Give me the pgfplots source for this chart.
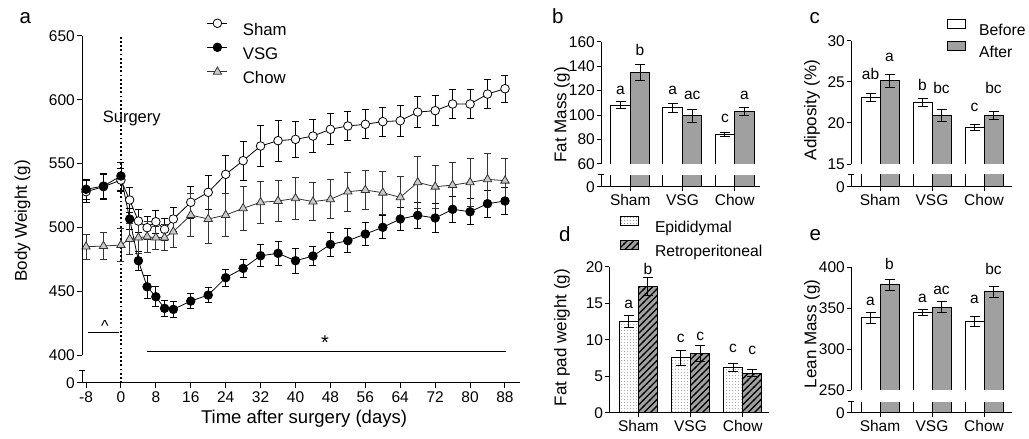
\documentclass[border=0pt]{standalone}
\usepackage{pgfplots}
\usepackage{pgfplotstable}
\pgfplotsset{compat=1.18}
\usepackage{fontspec}
\setmainfont{Liberation Sans}
\usetikzlibrary{patterns}
\definecolor{barg}{HTML}{A0A0A0}
\definecolor{trig}{HTML}{CACACA}
\newcommand{\fs}[1]{\fontsize{#1}{#1}\selectfont}

\pgfdeclarepatternformonly{hatchA}{\pgfqpoint{-1pt}{-1pt}}{\pgfqpoint{7.5pt}{7.5pt}}{\pgfqpoint{6.5pt}{6.5pt}}{%
  \pgfsetlinewidth{1.3pt}%
  \pgfpathmoveto{\pgfqpoint{-0.6pt}{-0.6pt}}%
  \pgfpathlineto{\pgfqpoint{7.1pt}{7.1pt}}%
  \pgfusepath{stroke}}
\pgfdeclarepatternformonly{dotsA}{\pgfqpoint{0pt}{0pt}}{\pgfqpoint{3.3pt}{3.3pt}}{\pgfqpoint{3.3pt}{3.3pt}}{%
  \pgfpathcircle{\pgfqpoint{1.65pt}{1.65pt}}{0.5pt}%
  \pgfusepath{fill}}

\pgfplotstableread{
x y e
-8 528.0 8.5
-4 531.9 10
0 537.1 9
2 521.5 10
4 505.0 9.1
6 499.8 9
8 504.5 8.9
10 498.5 8.7
12 506.6 9.4
16 519.7 12.4
20 527.5 13.4
24 541.6 15
28 552.3 15.5
32 563.8 16
36 568.0 16
40 569.0 14
44 571.6 13
48 576.9 12.1
52 579.5 11.4
56 580.8 11.4
60 582.9 11.5
64 583.6 11.9
68 590.4 12
72 591.5 11.9
76 596.7 11.5
80 596.7 11.5
84 604.5 11.1
88 608.7 10.7
}\sham

\pgfplotstableread{
x y e
-8 529.9 8
-4 532.4 10
0 540.3 11
2 506.6 8.5
4 473.9 7.2
6 453.5 9
8 445.7 7.8
10 436.6 6.5
12 435.8 6.5
16 442.3 5.9
20 447.0 6.1
24 460.6 6.8
28 467.9 7.3
32 477.8 8.7
36 479.7 9.1
40 473.9 9.8
44 477.6 7.2
48 486.7 9.1
52 489.6 9.4
56 494.8 9.0
60 500.1 9.0
64 506.6 9.0
68 509.5 10
72 507.4 11.5
76 514.2 10
80 512.3 10.2
84 518.6 10.8
88 520.7 10.4
}\vsg

\pgfplotstableread{
x y e
-8 484.9 9.7
-4 485.4 10.4
0 486.2 12.7
2 490.9 12
4 492.0 12
6 492.8 12
8 492.0 9
10 492.0 10
12 496.7 12.4
16 509.7 17
20 506.6 19
24 509.7 17
28 515.0 17
32 519.7 16.3
36 520.7 16.3
40 522.8 16.6
44 520.2 15
48 522.0 15.3
52 528.0 15.5
56 529.3 15.4
60 527.2 17
64 523.6 16.6
68 535.3 20.5
72 531.9 17
76 533.2 17.5
80 535.3 19
84 537.7 20.6
88 536.6 17.6
}\chow

\pgfplotstableread{
x b eb a ea
0 108.0 3.0 135.0 6.4
1 106.0 3.8 99.5 5.3
2 84.0 1.9 103.0 3.0
}\fatmass

\pgfplotstableread{
x b eb a ea
0 23.1 0.47 25.1 0.79
1 22.5 0.50 20.9 0.75
2 19.4 0.35 20.9 0.50
}\adipo

\pgfplotstableread{
x b eb a ea
0 12.5 0.87 17.3 1.26
1 7.5 1.07 8.1 1.10
2 6.2 0.52 5.4 0.50
}\fatpad

\pgfplotstableread{
x b eb a ea
0 338.4 6.5 378.4 6.5
1 344.5 4.0 351.1 6.7
2 333.5 6.0 370.2 6.7
}\lean

\pgfplotsset{
  prism/.style={
    scale only axis, anchor=south west,
    axis x line=bottom, axis y line=left,
    axis line style={-, line width=1pt, black},
    tick align=outside, major tick length=5pt,
    major tick style={line width=1pt, black},
    tick label style={font=\fs{15.5}},
    yticklabel style={inner sep=2pt},
    /pgf/number format/assume math mode=true,
  },
  hidey/.style={y axis line style={draw=none}},
  bars/.style={prism, ybar,
    xtick={0,1,2}, xticklabels={Sham,VSG,Chow},
    major tick length=4pt,
  },
  berr/.style={error bars/.cd, y dir=both, y explicit,
    error bar style={line width=1pt, black},
    error mark options={rotate=90, mark size=5pt, line width=1pt, black}},
  lerr/.style={error bars/.cd, y dir=both, y explicit,
    error bar style={line width=0.8pt},
    error mark options={rotate=90, mark size=3.5pt, line width=0.8pt}},
  boxlegc/.style={legend image code/.code={\draw[##1] (0pt,1.5pt) rectangle (18.3pt,9.8pt);}},
  legepi/.style={legend image code/.code={%
    \fill[white] (0pt,1.25pt) rectangle (17.7pt,10.25pt);
    \fill[pattern=dotsA, pattern color=black!55] (0pt,1.25pt) rectangle (17.7pt,10.25pt);
    \draw[line width=1pt] (0pt,1.25pt) rectangle (17.7pt,10.25pt);}},
  legretro/.style={legend image code/.code={%
    \fill[barg] (0pt,1.25pt) rectangle (17.7pt,10.25pt);
    \fill[pattern=hatchA, pattern color=black] (0pt,1.25pt) rectangle (17.7pt,10.25pt);
    \draw[line width=1pt] (0pt,1.25pt) rectangle (17.7pt,10.25pt);}},
}
\tikzset{lett/.style={anchor=base, font=\fs{15.5}}}

\begin{document}
\begin{tikzpicture}
\path[use as bounding box] (0,0) rectangle (1029pt,439pt);

% ---------------- panel a ----------------
\begin{axis}[prism, hidey, at={(82pt,56pt)}, width=438pt, height=347pt,
  xmin=-8.92, xmax=91.44, ymin=378.1, ymax=650,
  xtick={-8,0,8,16,24,32,40,48,56,64,72,80,88},
  ytick={400,450,500,550,600,650},
  extra y ticks={378.1}, extra y tick labels={0},
  xticklabel style={inner sep=3.5pt},
  legend style={at={(0.2854,1.049)}, anchor=north west, draw=none, fill=none,
    inner sep=0pt, outer sep=0pt, font=\fs{16.8}, row sep=7.7pt,
    nodes={inner sep=0pt, text height=12pt, text depth=0pt},
    /tikz/every odd column/.append style={column sep=15pt}},
  legend cell align=left,
  legend image code/.code={\draw[mark repeat=2,mark phase=2,#1] plot coordinates {(0pt,6pt) (10pt,6pt) (20pt,6pt)};},
]
\addplot[black, line width=0.8pt, mark=*, mark size=4.3pt, mark options={fill=white, line width=0.8pt}, lerr]
  table[x=x, y=y, y error=e] {\sham};
\addlegendentry{Sham}
\addplot[black, line width=0.8pt, mark=*, mark size=4.3pt, mark options={fill=black, line width=0.8pt}, lerr]
  table[x=x, y=y, y error=e] {\vsg};
\addlegendentry{VSG}
\addplot[black!80, line width=0.8pt, mark=triangle*, mark size=4.8pt, mark options={fill=trig, draw=black!80, line width=0.8pt}, lerr]
  table[x=x, y=y, y error=e] {\chow};
\addlegendentry{Chow}
\draw[line width=2pt, dash pattern=on 1.8pt off 2.4pt] (axis cs:0,378.1) -- (axis cs:0,650);
\node[anchor=base west, font=\fs{16.5}] at (axis cs:-4.95,582.1) {Surgery};
\node[anchor=base, font=\fs{16}] at (axis cs:-3.65,418.4) {\textasciicircum};
\draw[line width=1pt] (axis cs:-7.6,417.8) -- (axis cs:-0.44,417.8);
\node[anchor=base, font=\fs{20}] at (axis cs:46.75,404.5) {*};
\draw[line width=1pt] (axis cs:5.9,402.6) -- (axis cs:88.2,402.6);
\coordinate (a0) at (axis cs:-8.92,378.1);
\coordinate (a1) at (axis cs:-8.92,388.2);
\coordinate (a2) at (axis cs:-8.92,400);
\coordinate (a3) at (axis cs:-8.92,650);
\end{axis}
\draw[line width=1pt] (a2) -- (a3);
\draw[line width=1pt] (a0) -- (a1);
\draw[line width=1pt] ([xshift=-3pt]a1) -- ([xshift=3pt]a1);
\node[rotate=90, font=\fs{17}] at (22.5pt,218pt) {Body Weight (g)};
\node[font=\fs{18.5}] at (304pt,20.5pt) {Time after surgery (days)};
\node[anchor=base west, font=\fs{20.5}] at (16pt,415pt) {a};

% ---------------- panel b ----------------
\begin{axis}[bars, hidey, at={(601pt,252.3pt)}, width=159pt, height=145pt,
  xmin=-0.561, xmax=2.485, ymin=41.4, ymax=160,
  ytick={60,80,100,120,140,160}, extra y ticks={41.4}, extra y tick labels={0}]
\addplot[draw=black, fill=white, line width=1pt, bar width=19.5pt, bar shift=-9.75pt, berr]
  table[x=x, y=b, y error=eb] {\fatmass};
\addplot[draw=black, fill=barg, line width=1pt, bar width=19.5pt, bar shift=9.75pt, berr]
  table[x=x, y=a, y error=ea] {\fatmass};
\coordinate (b0) at (axis cs:-0.561,41.4);
\coordinate (b1) at (axis cs:-0.561,51.0);
\coordinate (b2) at (axis cs:-0.561,60);
\coordinate (b3) at (axis cs:-0.561,160);
\coordinate (bg) at (axis cs:2.45,59.6);
\coordinate (bt1) at (axis cs:-0.187,117.2);
\coordinate (bt2) at (axis cs:0.187,148.3);
\coordinate (bt3) at (axis cs:0.813,117.2);
\coordinate (bt4) at (axis cs:1.187,112.9);
\coordinate (bt5) at (axis cs:1.813,94.1);
\coordinate (bt6) at (axis cs:2.187,112.9);
\end{axis}
\fill[white] ([xshift=1pt]b1) rectangle (bg);
\draw[line width=1pt] (b2) -- (b3);
\draw[line width=1pt] (b0) -- (b1);
\draw[line width=1pt] ([xshift=-3pt]b1) -- ([xshift=3pt]b1);
\node[lett] at (bt1) {a};
\node[lett] at (bt2) {b};
\node[lett] at (bt3) {a};
\node[lett] at (bt4) {ac};
\node[lett] at (bt5) {c};
\node[lett] at (bt6) {a};
\node[rotate=90, font=\fs{17}] at (562pt,324pt) {Fat Mass (g)};
\node[anchor=base west, font=\fs{20.5}] at (548.5pt,415pt) {b};

% ---------------- panel c ----------------
\begin{axis}[bars, hidey, at={(851pt,252.3pt)}, width=161pt, height=146pt,
  xmin=-0.558, xmax=2.538, ymin=12.24, ymax=30,
  ytick={15,20,25,30}, extra y ticks={12.24}, extra y tick labels={0},
  legend style={at={(0.594,1.147)}, anchor=north west, draw=none, fill=none,
    inner sep=0pt, outer sep=0pt, font=\fs{15.7}, row sep=6.1pt,
    nodes={inner sep=0pt, text height=11.3pt, text depth=0pt},
    /tikz/every odd column/.append style={column sep=13.3pt}},
  legend cell align=left]
\addplot[draw=black, fill=white, line width=1pt, bar width=19pt, bar shift=-9.5pt, boxlegc, berr]
  table[x=x, y=b, y error=eb] {\adipo};
\addlegendentry{Before}
\addplot[draw=black, fill=barg, line width=1pt, bar width=19pt, bar shift=9.5pt, boxlegc, berr]
  table[x=x, y=a, y error=ea] {\adipo};
\addlegendentry{After}
\coordinate (c0) at (axis cs:-0.558,12.24);
\coordinate (c1) at (axis cs:-0.558,13.75);
\coordinate (c2) at (axis cs:-0.558,15);
\coordinate (c3) at (axis cs:-0.558,30);
\coordinate (cg) at (axis cs:2.5,14.95);
\coordinate (ct1) at (axis cs:-0.183,25.22);
\coordinate (ct2) at (axis cs:0.183,27.53);
\coordinate (ct3) at (axis cs:0.817,24.0);
\coordinate (ct4) at (axis cs:1.183,23.6);
\coordinate (ct5) at (axis cs:1.817,21.36);
\coordinate (ct6) at (axis cs:2.183,23.6);
\end{axis}
\fill[white] ([xshift=1pt]c1) rectangle (cg);
\draw[line width=1pt] (c2) -- (c3);
\draw[line width=1pt] (c0) -- (c1);
\draw[line width=1pt] ([xshift=-3pt]c1) -- ([xshift=3pt]c1);
\node[lett] at (ct1) {ab};
\node[lett] at (ct2) {a};
\node[lett] at (ct3) {b};
\node[lett] at (ct4) {bc};
\node[lett] at (ct5) {c};
\node[lett] at (ct6) {bc};
\node[rotate=90, font=\fs{17}] at (812pt,329pt) {Adiposity (\%)};
\node[anchor=base west, font=\fs{20.5}] at (806pt,415pt) {c};

% ---------------- panel d ----------------
\begin{axis}[bars, at={(609.3pt,26.3pt)}, width=160pt, height=146pt,
  xmin=-0.556, xmax=2.51, ymin=0, ymax=20,
  ytick={0,5,10,15,20},
  legend style={at={(0.067,1.348)}, anchor=north west, draw=none, fill=none,
    inner sep=0pt, outer sep=0pt, font=\fs{15.7}, row sep=7.5pt,
    nodes={inner sep=0pt, text height=11.5pt, text depth=0pt},
    /tikz/every odd column/.append style={column sep=16.3pt}},
  legend cell align=left]
\addplot[draw=black, fill=white, line width=1pt, bar width=19.3pt, bar shift=-9.65pt,
  postaction={pattern=dotsA, pattern color=black!55},
  legepi, berr]
  table[x=x, y=b, y error=eb] {\fatpad};
\addlegendentry{Epididymal}
\addplot[draw=black, fill=barg, line width=1pt, bar width=19.3pt, bar shift=9.65pt,
  postaction={pattern=hatchA, pattern color=black},
  legretro, berr]
  table[x=x, y=a, y error=ea] {\fatpad};
\addlegendentry{Retroperitoneal}
\coordinate (dt1) at (axis cs:-0.185,14.3);
\coordinate (dt2) at (axis cs:0.185,18.96);
\coordinate (dt3) at (axis cs:0.815,9.68);
\coordinate (dt4) at (axis cs:1.185,9.86);
\coordinate (dt5) at (axis cs:1.815,8.22);
\coordinate (dt6) at (axis cs:2.185,7.95);
\end{axis}
\node[lett] at (dt1) {a};
\node[lett] at (dt2) {b};
\node[lett] at (dt3) {c};
\node[lett] at (dt4) {c};
\node[lett] at (dt5) {c};
\node[lett] at (dt6) {c};
\node[rotate=90, font=\fs{17}] at (562pt,101.5pt) {Fat pad weight (g)};
\node[anchor=base west, font=\fs{20.5}] at (555.5pt,197pt) {d};

% ---------------- panel e ----------------
\begin{axis}[bars, hidey, at={(851pt,26.3pt)}, width=161pt, height=145.4pt,
  xmin=-0.558, xmax=2.538, ymin=222.3, ymax=400,
  ytick={250,300,350,400}, extra y ticks={222.3}, extra y tick labels={0}]
\addplot[draw=black, fill=white, line width=1pt, bar width=19pt, bar shift=-9.5pt, berr]
  table[x=x, y=b, y error=eb] {\lean};
\addplot[draw=black, fill=barg, line width=1pt, bar width=19pt, bar shift=9.5pt, berr]
  table[x=x, y=a, y error=ea] {\lean};
\coordinate (e0) at (axis cs:-0.558,222.3);
\coordinate (e1) at (axis cs:-0.558,235.7);
\coordinate (e2) at (axis cs:-0.558,250);
\coordinate (e3) at (axis cs:-0.558,400);
\coordinate (eg) at (axis cs:2.5,249.6);
\coordinate (et1) at (axis cs:-0.183,352.7);
\coordinate (et2) at (axis cs:0.183,397.9);
\coordinate (et3) at (axis cs:0.817,357.2);
\coordinate (et4) at (axis cs:1.183,366.5);
\coordinate (et5) at (axis cs:1.817,356.0);
\coordinate (et6) at (axis cs:2.183,390.6);
\end{axis}
\fill[white] ([xshift=1pt]e1) rectangle (eg);
\draw[line width=1pt] (e2) -- (e3);
\draw[line width=1pt] (e0) -- (e1);
\draw[line width=1pt] ([xshift=-3pt]e1) -- ([xshift=3pt]e1);
\node[lett] at (et1) {a};
\node[lett] at (et2) {b};
\node[lett] at (et3) {a};
\node[lett] at (et4) {ac};
\node[lett] at (et5) {a};
\node[lett] at (et6) {bc};
\node[rotate=90, font=\fs{17}] at (812pt,105pt) {Lean Mass (g)};
\node[anchor=base west, font=\fs{20.5}] at (806pt,198.3pt) {e};
\end{tikzpicture}
\end{document}
